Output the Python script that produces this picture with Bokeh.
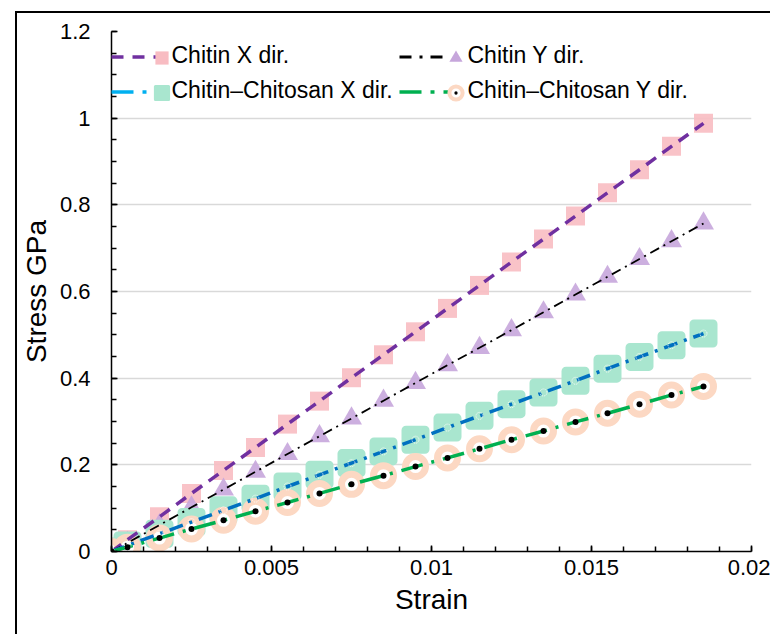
import numpy as np
from bokeh.plotting import figure
from bokeh.models import Range1d, FixedTicker, Legend, LegendItem, Label
from bokeh.embed import file_html
from bokeh.resources import INLINE

# ---------------- data ----------------
strain = [0, 0.0005, 0.0015, 0.0025, 0.0035, 0.0045, 0.0055, 0.0065, 0.0075, 0.0085,
          0.0095, 0.0105, 0.0115, 0.0125, 0.0135, 0.0145, 0.0155, 0.0165, 0.0175, 0.0185]
chitin_x = [0, 0.027, 0.080, 0.134, 0.187, 0.240, 0.294, 0.347, 0.401, 0.454,
            0.507, 0.561, 0.614, 0.668, 0.721, 0.774, 0.828, 0.881, 0.935, 0.988]
chitin_y = [0, 0.020, 0.061, 0.102, 0.143, 0.184, 0.225, 0.266, 0.307, 0.348,
            0.389, 0.430, 0.470, 0.511, 0.552, 0.593, 0.634, 0.675, 0.716, 0.757]
cc_x = [0, 0.014, 0.041, 0.068, 0.095, 0.122, 0.150, 0.177, 0.204, 0.231,
        0.258, 0.286, 0.313, 0.340, 0.367, 0.394, 0.422, 0.449, 0.476, 0.503]
cc_y = [0, 0.010, 0.031, 0.052, 0.072, 0.093, 0.113, 0.134, 0.155, 0.175,
        0.196, 0.216, 0.237, 0.258, 0.278, 0.299, 0.319, 0.340, 0.361, 0.381]

series_names = ["Chitin X dir.", "Chitin Y dir.",
                "Chitin\u2013Chitosan X dir.", "Chitin\u2013Chitosan Y dir."]

x_ticks = [0, 0.005, 0.01, 0.015, 0.02]
x_tick_labels = ["0", "0.005", "0.01", "0.015", "0.02"]
y_ticks = [0, 0.2, 0.4, 0.6, 0.8, 1.0, 1.2]
y_tick_labels = ["0", "0.2", "0.4", "0.6", "0.8", "1", "1.2"]

FONT = "Liberation Sans"

p = figure(frame_width=640, frame_height=520,
           min_border_left=90, min_border_right=19,
           min_border_top=18, min_border_bottom=83,
           x_range=Range1d(0, 0.02), y_range=Range1d(0, 1.2),
           output_backend="svg", toolbar_location=None,
           background_fill_color="white", border_fill_color="white")
p.outline_line_color = None
p.margin = (11, 0, 0, 15)
p.styles = {"border-left": "2px solid black", "border-top": "2px solid black"}

# axes / ticks
p.xaxis.ticker = FixedTicker(ticks=x_ticks,
                             minor_ticks=[round(i * 0.001, 4) for i in range(21)])
p.yaxis.ticker = FixedTicker(ticks=y_ticks,
                             minor_ticks=[round(i * 0.05, 3) for i in range(25)])
p.xaxis.major_label_overrides = dict(zip(x_ticks, x_tick_labels))
p.yaxis.major_label_overrides = dict(zip(y_ticks, y_tick_labels))

for ax in (p.xaxis[0], p.yaxis[0]):
    ax.axis_line_color = "black"
    ax.axis_line_width = 1.5
    ax.major_tick_line_color = "black"
    ax.minor_tick_line_color = "black"
    ax.major_tick_line_width = 1.5
    ax.minor_tick_line_width = 1.5
    ax.major_tick_in = 6
    ax.major_tick_out = 0
    ax.minor_tick_in = 5
    ax.minor_tick_out = 0
    ax.major_label_text_font = FONT
    ax.major_label_text_font_size = "22px"
    ax.major_label_text_color = "black"
    ax.axis_label_text_font = FONT
    ax.axis_label_text_font_size = "28px"
    ax.axis_label_text_font_style = "normal"
    ax.axis_label_text_color = "black"

p.xaxis.axis_label = "Strain"
p.yaxis.axis_label = "Stress GPa"
p.xaxis.major_label_standoff = 8
p.yaxis.major_label_standoff = 21
p.xaxis.axis_label_standoff = 6
p.yaxis.axis_label_standoff = 5

p.xgrid.grid_line_color = None
p.ygrid.grid_line_color = "#d9d9d9"
p.ygrid.grid_line_width = 1.5

PINK = "#f8bcc2"
LAV = "#c6a6db"
MINT = "#a9e6cf"
PEACH = "#fcd8c3"
PURPLE = "#7030a0"
BLUE = "#0070c0"
LBLUE = "#00b0f0"
GREEN = "#00b050"

# markers
p.scatter(strain, chitin_x, marker="square", size=19, fill_color=PINK,
          line_color=None, fill_alpha=0.9)
p.scatter(strain, chitin_y, marker="triangle", size=21, fill_color=LAV,
          line_color=None, fill_alpha=0.9)
p.scatter(strain, cc_x, marker="square", size=19, fill_color=MINT,
          line_color=MINT, line_width=9, line_join="round")
p.scatter(strain, cc_y, marker="circle", size=20, fill_color="white",
          line_color=PEACH, line_width=7)

# lines
p.line(strain, chitin_x, line_color=PURPLE, line_width=3.5, line_dash="12 8")
p.line(strain, chitin_y, line_color="black", line_width=1.8, line_dash="10 5 2 5")
p.line(strain, cc_x, line_color=BLUE, line_width=3.5, line_dash="14 7 3 7")
p.line(strain, cc_y, line_color=GREEN, line_width=3.5, line_dash="22 9 3 9")

# marker centres
p.scatter(strain, cc_x, marker="circle", size=7, fill_color=None,
          line_color="white", line_width=1, line_dash="1 1")
p.scatter(strain, cc_y, marker="circle", size=6, fill_color="black", line_color=None)

# ---------------- legend (off-range proxy renderers) ----------------
px = [-1, -1]
py = [-1, -1]
lg_lines = [
    p.line(px, py, line_color=PURPLE, line_width=3.5, line_dash="12 9"),
    p.line(px, py, line_color="black", line_width=3, line_dash="12 8 3 8"),
    p.line(px, py, line_color=LBLUE, line_width=3.5, line_dash="22 9 4 9"),
    p.line(px, py, line_color=GREEN, line_width=3.5, line_dash="22 9 4 9"),
]
lg_marks = [
    [p.scatter(px, py, marker="square", fill_color=PINK, line_color=None)],
    [p.scatter(px, py, marker="triangle", fill_color=LAV, line_color=None)],
    [p.scatter(px, py, marker="square", fill_color=MINT, line_color=MINT,
               line_width=3, line_join="round")],
    [p.scatter(px, py, marker="circle", fill_color="white", line_color=PEACH, line_width=4),
     p.scatter(px, py, marker="dot", line_color="black", line_width=5)],
]

line_x = [0, 288, 0, 288]
line_w = [48, 50, 48, 50]
mark_x = [34, 328, 34, 328]
row_y = [477, 477, 442, 442]
text_x = [60, 356, 60, 356]
text_y = [497, 497, 462, 462]

for i in range(4):
    l1 = Legend(items=[LegendItem(label=" ", renderers=[lg_lines[i]])],
                location=(line_x[i], row_y[i]), glyph_width=line_w[i], glyph_height=35,
                padding=0, margin=0, spacing=0, label_standoff=0, label_width=0,
                border_line_color=None, background_fill_alpha=0,
                label_text_font=FONT, label_text_font_size="2px")
    l2 = Legend(items=[LegendItem(label=" ", renderers=lg_marks[i])],
                location=(mark_x[i], row_y[i]), glyph_width=33, glyph_height=33,
                padding=0, margin=0, spacing=0, label_standoff=0, label_width=0,
                border_line_color=None, background_fill_alpha=0,
                label_text_font=FONT, label_text_font_size="2px")
    p.add_layout(l1)
    p.add_layout(l2)
    p.add_layout(Label(x=text_x[i], y=text_y[i], x_units="screen", y_units="screen",
                       text=series_names[i], text_font=FONT, text_font_size="23px",
                       text_color="black", text_baseline="middle", text_align="left"))

open("out.html", "w").write(file_html(p, INLINE))
